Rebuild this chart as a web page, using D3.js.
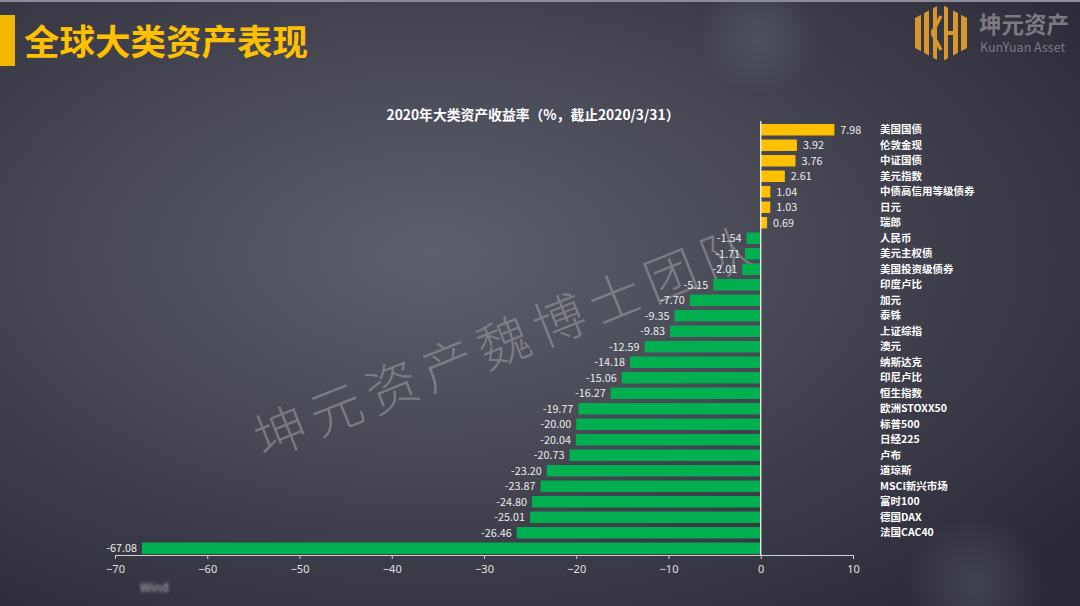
<!DOCTYPE html>
<html><head><meta charset="utf-8">
<script src="https://cdn.jsdelivr.net/npm/d3@7"></script>
<style>html,body{margin:0;padding:0;background:#34323f;}svg{display:block;font-family:"Noto Sans CJK SC","Noto Sans",sans-serif;}</style>
</head><body>
<svg id="c" width="1080" height="606"></svg>
<script>
const categories = ["美国国债","伦敦金现","中证国债","美元指数","中债高信用等级债券","日元","瑞郎","人民币","美元主权债","美国投资级债券","印度卢比","加元","泰铢","上证综指","澳元","纳斯达克","印尼卢比","恒生指数","欧洲STOXX50","标普500","日经225","卢布","道琼斯","MSCI新兴市场","富时100","德国DAX","法国CAC40",""];
const values = [7.98,3.92,3.76,2.61,1.04,1.03,0.69,-1.54,-1.71,-2.01,-5.15,-7.70,-9.35,-9.83,-12.59,-14.18,-15.06,-16.27,-19.77,-20.00,-20.04,-20.73,-23.20,-23.87,-24.80,-25.01,-26.46,-67.08];
const xTicks = [-70,-60,-50,-40,-30,-20,-10,0,10];
const pageTitle = "全球大类资产表现";
const chartTitle = "2020年大类资产收益率（%，截止2020/3/31）";
const watermark = "坤元资产魏博士团队";

const svg = d3.select("#c");
const defs = svg.append("defs");
const rg = defs.append("radialGradient").attr("id","bg").attr("cx","0.40").attr("cy","0.42").attr("r","0.75");
rg.append("stop").attr("offset","0").attr("stop-color","#5c5f6c");
rg.append("stop").attr("offset","0.45").attr("stop-color","#474854");
rg.append("stop").attr("offset","1").attr("stop-color","#2c2a37");
const glow = defs.append("radialGradient").attr("id","glow");
glow.append("stop").attr("offset","0").attr("stop-color","#6a7480").attr("stop-opacity",0.35);
glow.append("stop").attr("offset","1").attr("stop-color","#6a7480").attr("stop-opacity",0);
defs.append("filter").attr("id","blur").append("feGaussianBlur").attr("stdDeviation",1.6);

svg.append("rect").attr("width",1080).attr("height",606).attr("fill","url(#bg)");
svg.append("circle").attr("cx",760).attr("cy",35).attr("r",60).attr("fill","url(#glow)");
svg.append("circle").attr("cx",975).attr("cy",585).attr("r",70).attr("fill","url(#glow)");
svg.append("rect").attr("width",1080).attr("height",2).attr("fill","#8c8c98");

// header
svg.append("rect").attr("x",0).attr("y",15).attr("width",15).attr("height",51).attr("fill","#f2b800");
svg.append("text").attr("x",24).attr("y",55).attr("font-size",35.5).attr("font-weight",700)
  .attr("fill","#ffc000").text(pageTitle);

// logo
const logo = svg.append("g");
const cx0 = 941, cy0 = 33;
const hex = [[cx0,4],[cx0+26,18],[cx0+26,48],[cx0,62],[cx0-26,48],[cx0-26,18]];
defs.append("clipPath").attr("id","hexclip").append("polygon").attr("points",hex.map(p=>p.join(",")).join(" "));
const lg = logo.append("g").attr("clip-path","url(#hexclip)");
[[-26,6],[-17,5],[-8,4],[3,4],[12,5],[20,6]].forEach(([o,w])=>{
  lg.append("rect").attr("x",cx0+o).attr("y",0).attr("width",w).attr("height",66).attr("fill","#d8962e");
});
lg.append("line").attr("x1",cx0-9).attr("y1",33).attr("x2",cx0).attr("y2",16).attr("stroke","#d8962e").attr("stroke-width",3.5);
lg.append("line").attr("x1",cx0-9).attr("y1",33).attr("x2",cx0).attr("y2",50).attr("stroke","#d8962e").attr("stroke-width",3.5);
lg.append("line").attr("x1",cx0+7).attr("y1",33).attr("x2",cx0+12).attr("y2",33).attr("stroke","#d8962e").attr("stroke-width",4);
logo.append("text").attr("x",979).attr("y",33).attr("font-size",22.5).attr("font-weight",700).attr("fill","#7b7b80").text("坤元资产");
logo.append("text").attr("x",980).attr("y",52).attr("font-size",12.5).attr("fill","#7b7b80").text("KunYuan Asset");

// scales
const x = d3.scaleLinear().domain([-70,10]).range([115,853]);
const y = d3.scaleBand().domain(d3.range(categories.length)).range([122,556]).paddingInner(0.26).paddingOuter(0.13);

// watermark
svg.append("text").attr("transform","translate(506,338) rotate(-21.8)").attr("text-anchor","middle")
  .attr("dominant-baseline","central").attr("font-size",52).attr("font-weight",300).attr("letter-spacing",8)
  .attr("fill","#9a9a9a").attr("fill-opacity",0.6).text(watermark);

// chart title
svg.append("text").attr("x",533).attr("y",120).attr("text-anchor","middle").attr("font-size",13.8)
  .attr("font-weight",700).attr("fill","#ffffff").text(chartTitle);

// bars
const g = svg.append("g");
g.selectAll("rect.bar").data(values).join("rect").attr("class","bar")
  .attr("x",d=>x(Math.min(0,d))).attr("width",d=>Math.abs(x(d)-x(0)))
  .attr("y",(d,i)=>y(i)).attr("height",y.bandwidth())
  .attr("fill",d=>d>=0?"#ffc000":"#00b050");

g.selectAll("text.val").data(values).join("text").attr("class","val")
  .attr("x",d=>d>=0?x(d)+6:x(d)-5).attr("y",(d,i)=>y(i)+y.bandwidth()/2)
  .attr("dy","0.35em").attr("text-anchor",d=>d>=0?"start":"end")
  .attr("font-size",10.8).attr("fill","#ececec").text(d=>d.toFixed(2));

g.selectAll("text.cat").data(categories).join("text").attr("class","cat")
  .attr("x",880).attr("y",(d,i)=>y(i)+y.bandwidth()/2).attr("dy","0.35em")
  .attr("font-size",10.5).attr("font-weight",700).attr("fill","#ffffff").text(d=>d);

// zero line
svg.append("line").attr("x1",x(0)).attr("x2",x(0)).attr("y1",121).attr("y2",555)
  .attr("stroke","#ffffff").attr("stroke-width",1.2);

// x axis
const ax = svg.append("g").attr("transform","translate(0,555)")
  .call(d3.axisBottom(x).tickValues(xTicks).tickSize(4).tickSizeOuter(0).tickPadding(6));
ax.select(".domain").attr("stroke","#d0d0d0");
ax.selectAll(".tick line").attr("stroke","#d0d0d0");
ax.selectAll(".tick text").attr("fill","#e0e0e0").attr("font-size",11)
  .attr("font-family","\"Noto Sans\",\"Noto Sans CJK SC\",sans-serif");

// blurred source text
svg.append("text").attr("x",140).attr("y",592).attr("font-size",12).attr("fill","#d8d8d8")
  .attr("filter","url(#blur)").attr("opacity",0.8).text("Wind");
</script>
</body></html>
